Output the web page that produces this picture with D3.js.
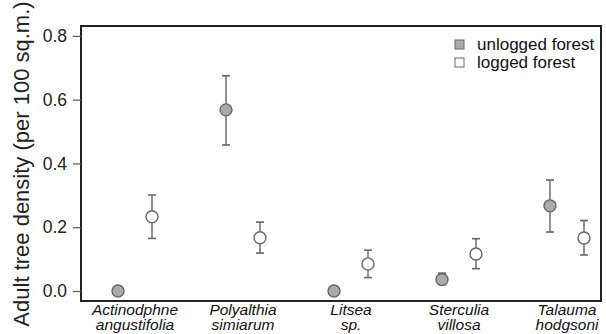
<!DOCTYPE html>
<html>
<head>
<meta charset="utf-8">
<script src="https://cdn.jsdelivr.net/npm/d3@7"></script>
<style>
  body { margin: 0; background: #fff; }
  svg { display: block; font-family: "Liberation Sans", Arial, sans-serif; }
</style>
</head>
<body>
<svg width="606" height="334"></svg>
<script>
// species names, two lines each
var species = ["Actinodphne angustifolia", "Polyalthia simiarum", "Litsea sp.", "Sterculia villosa", "Talauma hodgsoni"];
var speciesLines = [["Actinodphne", "angustifolia"], ["Polyalthia", "simiarum"], ["Litsea", "sp."], ["Sterculia", "villosa"], ["Talauma", "hodgsoni"]];

// unlogged forest: mean, lower, upper
var unloggedMean = [0, 0.568, 0, 0.036, 0.267];
var unloggedLow  = [0, 0.458, 0, 0.020, 0.185];
var unloggedHigh = [0, 0.675, 0, 0.056, 0.348];

// logged forest: mean, lower, upper
var loggedMean = [0.233, 0.167, 0.085, 0.116, 0.166];
var loggedLow  = [0.165, 0.119, 0.042, 0.070, 0.113];
var loggedHigh = [0.301, 0.216, 0.128, 0.164, 0.221];

var yTicks = [0, 0.2, 0.4, 0.6, 0.8];
var seriesNames = ["unlogged forest", "logged forest"];
var seriesFill = ["#ababab", "#ffffff"];

var plot = {left: 81, top: 26, right: 601, bottom: 301};

var svg = d3.select("svg");

var y = d3.scaleLinear()
    .domain([-0.0314, 0.831])
    .range([plot.bottom, plot.top]);

var x = d3.scalePoint()
    .domain(species)
    .range([plot.left + 54, plot.left + 486]);

var shift = 17;

// frame
svg.append("rect")
    .attr("x", plot.left)
    .attr("y", plot.top)
    .attr("width", plot.right - plot.left)
    .attr("height", plot.bottom - plot.top)
    .attr("fill", "none")
    .attr("stroke", "#222")
    .attr("stroke-width", 2);

// y axis
var yAxis = d3.axisLeft(y)
    .tickValues(yTicks)
    .tickFormat(d3.format(".1f"))
    .tickSize(8)
    .tickPadding(6);

var yg = svg.append("g")
    .attr("transform", "translate(" + plot.left + ",0)")
    .call(yAxis);
yg.select(".domain").remove();
yg.selectAll(".tick line").attr("stroke", "#555").attr("stroke-width", 1.2);
yg.selectAll(".tick text")
    .attr("font-size", 17.5)
    .attr("font-family", "Liberation Sans, Arial, sans-serif")
    .attr("fill", "#222");

// y title
svg.append("text")
    .attr("transform", "translate(29,164) rotate(-90)")
    .attr("text-anchor", "middle")
    .attr("font-size", 22)
    .attr("fill", "#222")
    .text("Adult tree density (per 100 sq.m.)");

// x labels, one text per line
var xg = svg.append("g");
speciesLines.forEach(function(lines, i) {
    lines.forEach(function(line, k) {
        xg.append("text")
            .attr("x", x(species[i]))
            .attr("y", 315 + k * 15)
            .attr("text-anchor", "middle")
            .attr("font-size", 15.5)
            .attr("font-style", "italic")
            .attr("fill", "#111")
            .text(line);
    });
});

// series
var series = [
    {name: seriesNames[0], mean: unloggedMean, low: unloggedLow, high: unloggedHigh, off: -shift, fill: seriesFill[0]},
    {name: seriesNames[1], mean: loggedMean, low: loggedLow, high: loggedHigh, off: shift, fill: seriesFill[1]}
];

series.forEach(function(s) {
    var pts = species.map(function(sp, i) {
        return {sp: sp, mean: s.mean[i], low: s.low[i], high: s.high[i]};
    });
    var g = svg.append("g");
    var bars = pts.filter(function(p) { return p.high > p.low; });

    g.selectAll("line.err")
        .data(bars)
        .enter()
        .append("line")
        .attr("class", "err")
        .attr("x1", function(p) { return x(p.sp) + s.off; })
        .attr("x2", function(p) { return x(p.sp) + s.off; })
        .attr("y1", function(p) { return y(p.low); })
        .attr("y2", function(p) { return y(p.high); })
        .attr("stroke", "#777")
        .attr("stroke-width", 1.6);

    ["low", "high"].forEach(function(key) {
        g.selectAll("line.cap-" + key)
            .data(bars)
            .enter()
            .append("line")
            .attr("x1", function(p) { return x(p.sp) + s.off - 4; })
            .attr("x2", function(p) { return x(p.sp) + s.off + 4; })
            .attr("y1", function(p) { return y(p[key]); })
            .attr("y2", function(p) { return y(p[key]); })
            .attr("stroke", "#666")
            .attr("stroke-width", 1.6);
    });

    g.selectAll("circle")
        .data(pts)
        .enter()
        .append("circle")
        .attr("cx", function(p) { return x(p.sp) + s.off; })
        .attr("cy", function(p) { return y(p.mean); })
        .attr("r", 6)
        .attr("fill", s.fill)
        .attr("stroke", "#666")
        .attr("stroke-width", 1.4);
});

// legend
var legend = svg.append("g").attr("transform", "translate(455,40)");
var li = legend.selectAll("g")
    .data(series)
    .enter()
    .append("g")
    .attr("transform", function(d, i) { return "translate(0," + (i * 18) + ")"; });
li.append("rect")
    .attr("width", 9)
    .attr("height", 9)
    .attr("fill", function(d) { return d.fill; })
    .attr("stroke", "#666")
    .attr("stroke-width", 1);
li.append("text")
    .attr("x", 22)
    .attr("y", 10)
    .attr("font-size", 17)
    .attr("fill", "#111")
    .text(function(d) { return d.name; });
</script>
</body>
</html>
